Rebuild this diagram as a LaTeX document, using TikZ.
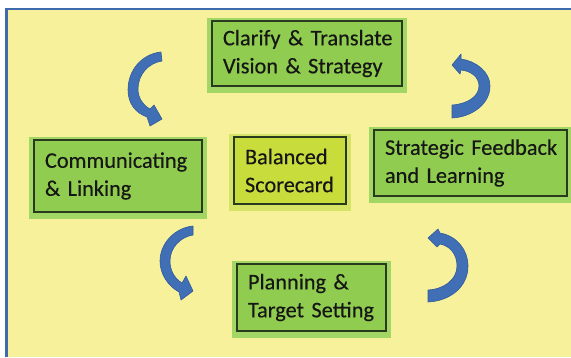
\documentclass[tikz,border=0pt]{standalone}
\usepackage{fontspec}
\setmainfont{Carlito}
\newfontfamily\labelfont{Carlito}[FakeBold=0.35]
\definecolor{panel}{HTML}{F8F19C}
\definecolor{frameblue}{HTML}{3F6AAE}
\definecolor{boxgreen}{HTML}{8FCC4F}
\definecolor{glowgreen}{HTML}{A2D766}
\definecolor{boxline}{HTML}{2A3A1F}
\definecolor{corefill}{HTML}{C8DC3C}
\definecolor{coreglow}{HTML}{D6E466}
\definecolor{arrowblue}{HTML}{416FB6}
\definecolor{arrowedge}{HTML}{2F5B9C}
\definecolor{ink}{HTML}{161616}
\begin{document}
\begin{tikzpicture}[x=1bp,y=-1bp,
  % width of text, height, fill, glow
  basebox/.style n args={4}{draw=boxline, line width=1.2bp, fill=#3, text=ink,
    align=left, inner xsep=11bp, inner ysep=0pt,
    text width=#1, minimum height=#2,
    font=\labelfont\fontsize{22.3bp}{28bp}\selectfont,
    preaction={draw=#4, line width=10bp, line join=miter,
      transform canvas={yshift=-2bp}}},
  box/.style 2 args={basebox={#1}{#2}{boxgreen}{glowgreen}},
  corebox/.style 2 args={basebox={#1}{#2}{corefill}{coreglow}},
  turn/.style={fill=arrowblue, draw=arrowedge, line width=0.6bp, line join=round}]

% page and panel
\useasboundingbox (0,0) rectangle (571,357);
\fill[white] (0,0) rectangle (571,357);
\fill[panel] (6.5,9) rectangle (571,357);
\draw[frameblue, line width=2.5bp] (6.5,357) -- (6.5,9) -- (571,9);

% the five boxes
\node[box={168bp}{65bp}] (clarify) at (307,53.5)
  {\mbox{Clarify \& Translate}\\\mbox{Vision \& Strategy}};
\node[box={146bp}{72bp}] (comm) at (118,176)
  {\mbox{Communicating}\\\mbox{\& Linking}};
\node[corebox={90bp}{67bp}] (bsc) at (290,170.5)
  {\mbox{Balanced}\\\mbox{Scorecard}};
\node[box={171bp}{66bp}] (feedback) at (470.5,163)
  {\mbox{Strategic Feedback}\\\mbox{and Learning}};
\node[box={127bp}{67bp}] (plan) at (311.5,297.5)
  {\mbox{Planning \&}\\\mbox{Target Setting}};

% curved block arrows
% upper left
\draw[turn] (161,52) .. controls (142,54) and (128,70) .. (128,90)
  .. controls (128,104) and (136,113) .. (147,117)
  -- (150,126) -- (162,119) -- (154,105) -- (150,109)
  .. controls (143,105) and (138,98) .. (138,89)
  .. controls (138,75) and (148,63) .. (162,61) -- cycle;
% upper right
\draw[turn] (452,65) -- (461,54) -- (461,59)
  .. controls (476,61) and (490,72) .. (490,86)
  .. controls (490,104) and (472,117) .. (452,118)
  -- (452,105)
  .. controls (468,104) and (479,96) .. (479,86)
  .. controls (479,77) and (471,71) .. (461,70)
  -- (460,74) -- cycle;
% lower left
\draw[turn] (193,226) .. controls (174,228) and (160,244) .. (160,261)
  .. controls (160,274) and (168,286) .. (179,292)
  -- (181,300) -- (193,291) -- (186,276) -- (182,283)
  .. controls (174,278) and (170,270) .. (170,261)
  .. controls (170,248) and (180,237) .. (193,235) -- cycle;
% lower right
\draw[turn] (428,238) -- (438,229) -- (440,233)
  .. controls (457,236) and (468,250) .. (468,266)
  .. controls (468,287) and (450,301) .. (428,302)
  -- (428,290)
  .. controls (445,289) and (457,279) .. (457,266)
  .. controls (457,254) and (450,246) .. (440,244)
  -- (437,247) -- cycle;
\end{tikzpicture}
\end{document}
